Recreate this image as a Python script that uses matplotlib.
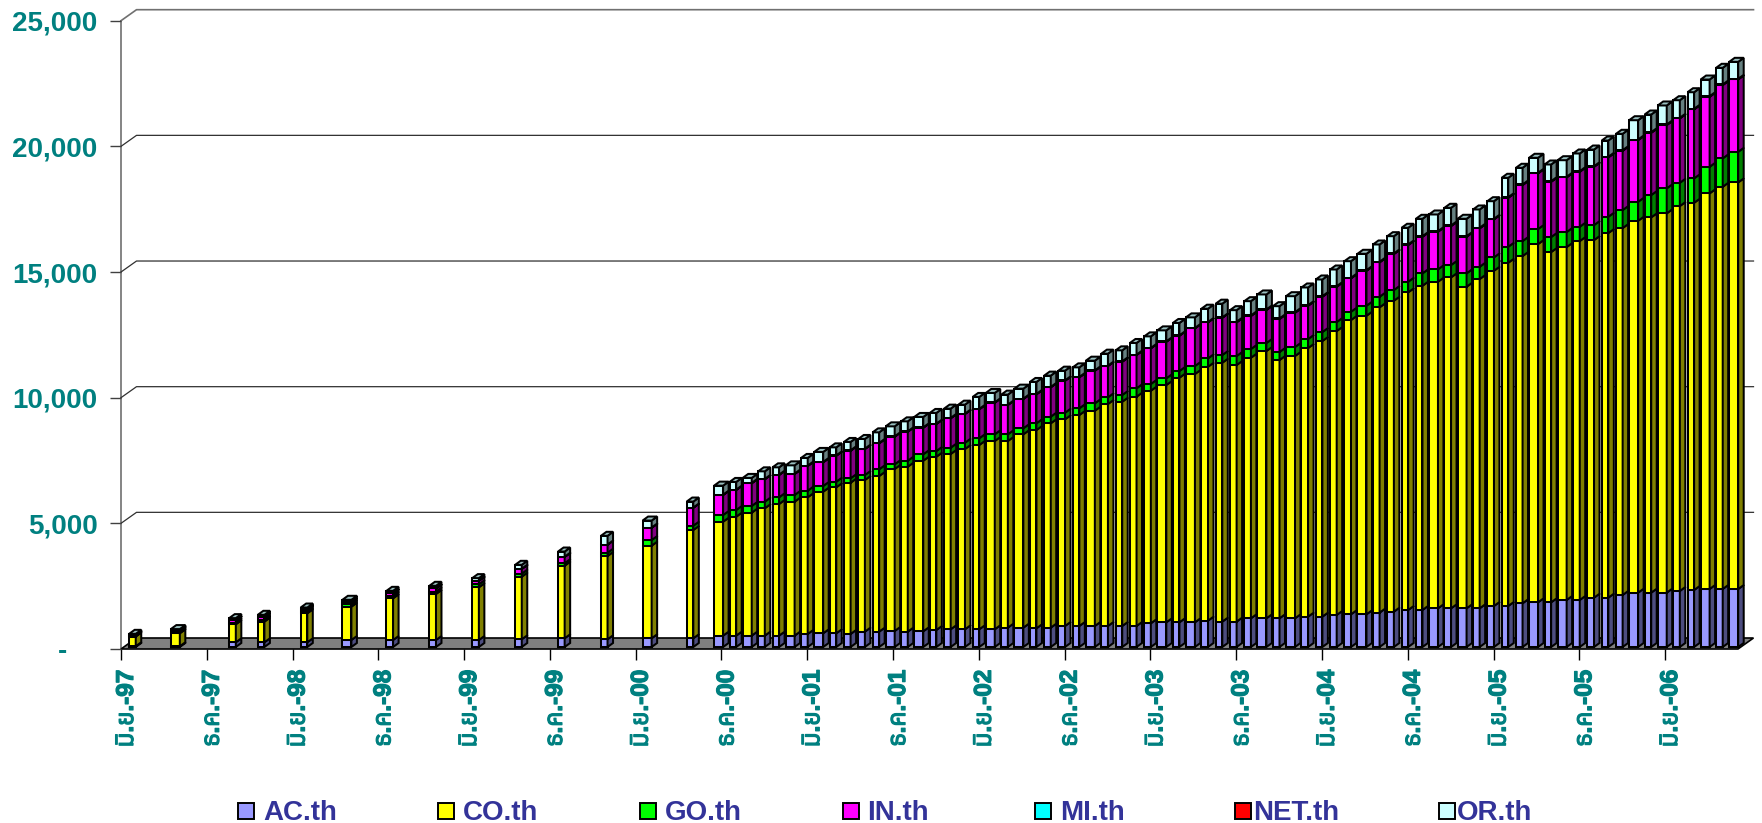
import matplotlib
matplotlib.use('Agg')
import matplotlib.pyplot as plt
import matplotlib.font_manager as fm
import matplotlib.patheffects as pe
from matplotlib.patches import Rectangle
from matplotlib.transforms import ScaledTranslation

# months since Jun-97: sparse quarterly bars first, monthly from Nov-00
months = [0, 3, 7, 9, 12, 15, 18, 21, 24, 27, 30, 33, 36, 39] + list(range(41, 113))

AC_th = [30, 30, 187, 187, 187, 278, 278, 278, 278, 306, 346, 306, 346, 346,
         451, 451, 451, 451, 451, 451, 517, 544, 544, 517, 610, 610, 636, 610, 623, 676, 703, 703,
         703, 703, 769, 769, 743, 769, 835, 835, 835, 835, 835, 835, 941, 981, 981, 981, 1048, 1008,
         1008, 1140, 1140, 1140, 1140, 1207, 1207, 1273, 1299, 1299, 1366, 1405, 1472, 1472, 1538,
         1538, 1538, 1538, 1631, 1631, 1737, 1777, 1777, 1870, 1870, 1962, 1962, 2069, 2161, 2161,
         2161, 2228, 2267, 2307, 2307, 2307]
CO_th = [386, 515, 716, 821, 1153, 1325, 1658, 1830, 2096, 2491, 2888, 3314, 3684, 4308,
         4533, 4732, 4892, 5067, 5238, 5329, 5438, 5634, 5809, 6019, 6033, 6192, 6445, 6562, 6788,
         6894, 6975, 7173, 7333, 7492, 7426, 7692, 7889, 8130, 8223, 8394, 8565, 8832, 8923, 9122,
         9255, 9441, 9732, 9879, 10102, 10302, 10210, 10368, 10635, 10277, 10436, 10687, 10966,
         11297, 11709, 11880, 12147, 12371, 12638, 12900, 12994, 13169, 12795, 13101, 13338, 13657,
         13817, 14254, 13936, 14042, 14281, 14228, 14507, 14599, 14797, 14933, 15092, 15315, 15407,
         15741, 16004, 16179]
GO_th = [25, 30, 70, 80, 70, 90, 100, 100, 120, 120, 100, 130, 225, 172,
         267, 267, 267, 263, 267, 267, 263, 227, 223, 175, 199, 267, 187, 239, 255, 227, 251, 251,
         267, 267, 267, 239, 267, 263, 263, 267, 294, 267, 267, 334, 267, 267, 267, 318, 334, 306,
         358, 346, 318, 318, 358, 358, 358, 358, 330, 398, 422, 426, 422, 493, 493, 489, 533, 489,
         533, 636, 597, 597, 597, 597, 569, 597, 648, 716, 756, 887, 995, 927, 971, 1058, 1130, 1217]
IN_th = [35, 70, 90, 100, 80, 90, 100, 120, 140, 190, 250, 320, 490, 716,
         796, 796, 903, 891, 887, 835, 983, 943, 1034, 1098, 1034, 1034, 1098, 1154, 1058, 1074,
         1170, 1142, 1154, 1257, 1166, 1166, 1154, 1170, 1273, 1233, 1297, 1245, 1325, 1325, 1420,
         1456, 1404, 1500, 1432, 1484, 1341, 1313, 1313, 1313, 1364, 1325, 1404, 1404, 1329, 1392,
         1368, 1432, 1460, 1456, 1496, 1551, 1456, 1528, 1512, 1949, 2228, 2216, 2200, 2176, 2188,
         2319, 2363, 2359, 2454, 2478, 2518, 2562, 2745, 2785, 2916, 2880]
MI_th = [5] * 14 + [10] * 36 + [15] * 36
NET_th = [3] * 14 + [6] * 36 + [10] * 36
OR_th = [40, 60, 78, 85, 73, 87, 91, 99, 99, 155, 207, 346, 279, 238,
         358, 306, 199, 302, 290, 330, 306, 398, 318, 334, 386, 422, 398, 398, 414, 426, 370, 358,
         477, 374, 398, 398, 477, 450, 386, 382, 386, 477, 438, 465, 461, 438, 493, 422, 529, 545,
         461, 569, 597, 489, 636, 704, 664, 664, 660, 652, 688, 688, 664, 692, 664, 704, 692, 728,
         700, 772, 664, 597, 664, 660, 704, 664, 648, 652, 768, 704, 756, 700, 660, 664, 664, 676]

series = [AC_th, CO_th, GO_th, IN_th, MI_th, NET_th, OR_th]
names = ['AC.th', 'CO.th', 'GO.th', 'IN.th', 'MI.th', 'NET.th', 'OR.th']
front_col = ['#9999FF', '#FFFF00', '#00FF00', '#FF00FF', '#00FFFF', '#FF0000', '#CCFFFF']
side_col = ['#4D4D80', '#808000', '#008000', '#800080', '#008080', '#800000', '#668080']
top_col = ['#7373BF', '#BFBF00', '#00BF00', '#BF00BF', '#00BFBF', '#BF0000', '#99BFBF']

y_ticks = [0, 5000, 10000, 15000, 20000, 25000]
y_labels = ['-', '5,000', '10,000', '15,000', '20,000', '25,000']
x_ticks = list(range(0, 109, 6))
x_labels = ['มิ.ย.-97', 'ธ.ค.-97', 'มิ.ย.-98', 'ธ.ค.-98', 'มิ.ย.-99', 'ธ.ค.-99', 'มิ.ย.-00',
            'ธ.ค.-00', 'มิ.ย.-01', 'ธ.ค.-01', 'มิ.ย.-02', 'ธ.ค.-02', 'มิ.ย.-03', 'ธ.ค.-03',
            'มิ.ย.-04', 'ธ.ค.-04', 'มิ.ย.-05', 'ธ.ค.-05', 'มิ.ย.-06']

# bars that come out wider in the reference (pixel snapping of the date axis)
wide = {1, 5, 12, 14, 16, 19, 21, 26, 28, 33, 35, 40, 45, 47, 52, 54, 59, 64, 66, 71, 73, 78, 80, 83, 85}

W, H = 1762, 823
fig = plt.figure(figsize=(W / 100, H / 100), dpi=100)
ax = fig.add_axes([121 / W, 1 - 649 / H, (1738 - 121) / W, (649 - 20.7) / H])
ax.set_xlim(0, 113.1)
ax.set_ylim(0, 25000)
for s in ax.spines.values():
    s.set_visible(False)
ax.patch.set_visible(False)

px_x = 113.1 / (1738 - 121)
px_y = 25000 / (649 - 20.7)

# thai font, if there is one
thai = []
for f in fm.fontManager.ttflist:
    try:
        if 0x0E21 in fm.get_font(f.fname).get_charmap():
            thai.append(f.name)
    except Exception:
        pass
label_family = ['Liberation Sans'] + sorted(set(thai)) + ['DejaVu Sans']

# walls and floor
wall_dx = 15.5 * px_x
wall_dy = 11 * px_y
ax.plot([0, 0], [0, 25000], color='#707070', lw=1.2, clip_on=False, zorder=1)
for v in y_ticks[1:]:
    grid_col = '#707070' if v == 25000 else '#303030'
    ax.plot([0, wall_dx, 113.1 + wall_dx], [v, v + wall_dy, v + wall_dy], color=grid_col,
            lw=1.2 if v == 25000 else 0.9, clip_on=False, zorder=1)
ax.fill([0, 113.1, 113.1 + wall_dx, wall_dx], [0, 0, wall_dy, wall_dy], facecolor='#808080',
        edgecolor='black', lw=1.2, clip_on=False, zorder=1.5)

# bars, left to right, bottom to top
base = 2 * px_y
bar_dx = 5.5 * px_x
bar_dy = 4 * px_y
edge = 1.45
for i, m in enumerate(months):
    x = m + 0.8
    w = (9.0 if i in wide else 6.6) * px_x
    bottom = base
    for j, vals in enumerate(series):
        v = vals[i]
        ax.bar(x, v, width=w, bottom=bottom, color=front_col[j], edgecolor='black', lw=edge,
               clip_on=False, zorder=2)
        ax.fill([x + w / 2, x + w / 2 + bar_dx, x + w / 2 + bar_dx, x + w / 2],
                [bottom, bottom + bar_dy, bottom + v + bar_dy, bottom + v], facecolor=side_col[j],
                edgecolor='black', lw=edge, clip_on=False, zorder=2)
        bottom += v
    ax.fill([x - w / 2, x + w / 2, x + w / 2 + bar_dx, x - w / 2 + bar_dx],
            [bottom, bottom, bottom + bar_dy, bottom + bar_dy], facecolor=top_col[-1],
            edgecolor='black', lw=edge, clip_on=False, zorder=2)

ax.set_yticks(y_ticks)
ax.set_yticklabels(y_labels, family='Liberation Sans', weight='bold', size=20, color='#008080')
ax.tick_params(axis='y', length=8, width=1.0, color='#404040', pad=9)
ax.set_xticks(x_ticks)
ax.set_xticklabels(x_labels, family=label_family, weight='bold', size=17.5, color='#008080', rotation=90)
ax.tick_params(axis='x', length=8, width=1.0, color='black', pad=7)
ax.get_yticklabels()[0].set_transform(ax.get_yticklabels()[0].get_transform()
                                      + ScaledTranslation(-0.30, 0, fig.dpi_scale_trans))
for lab in ax.get_xticklabels():
    lab.set_transform(lab.get_transform() + ScaledTranslation(0.055, 0, fig.dpi_scale_trans))
    # the thai face has no bold weight here, thicken it
    lab.set_path_effects([pe.withStroke(linewidth=0.9, foreground='#008080')])

# legend laid out by hand, the columns are not even
swatch_x = [238, 438, 640, 843, 1035, 1235, 1439]
text_x = [263, 463, 665, 867, 1060, 1253, 1457]
for sx, tx, name, col in zip(swatch_x, text_x, names, front_col):
    fig.add_artist(Rectangle((sx / W, 1 - 819 / H), 16 / W, 16 / H, transform=fig.transFigure,
                             facecolor=col, edgecolor='black', lw=1.4))
    fig.text(tx / W, 1 - 820 / H, name, family='Liberation Sans', weight='bold', size=20,
             color='#333399', ha='left', va='baseline')

fig.savefig('out.png', dpi=100)
